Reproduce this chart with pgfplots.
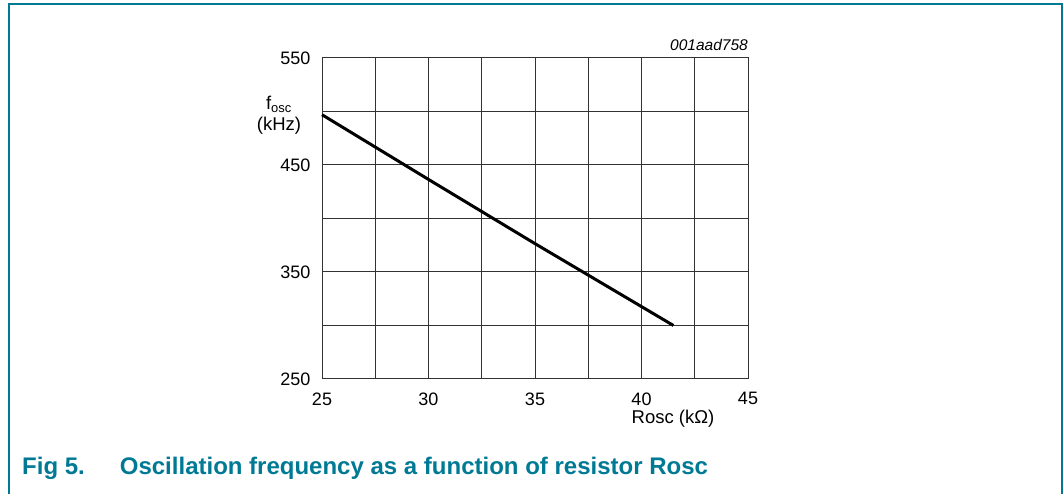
\documentclass[border=0pt]{standalone}
\usepackage{pgfplots}
\pgfplotsset{compat=1.18}
\usepackage{fontspec}
\setmainfont{Liberation Sans}
\definecolor{nxpteal}{RGB}{0,122,148}
\definecolor{gridc}{RGB}{50,50,50}
\begin{document}
\begin{tikzpicture}[x=1pt,y=1pt]
\useasboundingbox (0,0) rectangle (1063,494);
\draw[nxpteal, line width=2pt] (8.5,-2) -- (8.5,489.5) -- (1061.5,489.5) -- (1061.5,-2);
\begin{axis}[
  at={(322pt,115pt)}, anchor=south west,
  scale only axis, width=426pt, height=321pt,
  xmin=25, xmax=45, ymin=250, ymax=550,
  xtick={25,30,...,45}, ytick={250,350,450,550},
  extra x ticks={27.5,32.5,37.5,42.5}, extra x tick labels={},
  extra y ticks={300,400,500}, extra y tick labels={},
  grid=major,
  major grid style={gridc, line width=1pt},
  extra tick style={grid=major, major grid style={gridc, line width=1pt}},
  axis line style={gridc, line width=1pt},
  tick style={draw=none},
  /pgf/number format/assume math mode=true,
  ticklabel style={font=\fontsize{18}{20}\selectfont},
  xticklabel style={yshift=-10pt},
  yticklabel style={xshift=-8pt},
  clip=false,
]
\addplot[black, line width=3pt] coordinates {(25,497) (30,436.5) (35,376.5) (41.5,300)};
\end{axis}
\node[font=\fontsize{18.5}{20.5}\selectfont, align=center, inner sep=0pt] at (279,379) {f\textsubscript{osc}\\(kHz)};
\node[font=\fontsize{18.5}{20}\selectfont, inner sep=0pt] at (673,75) {Rosc (kΩ)};
\node[font=\fontsize{15.5}{17}\selectfont\itshape, anchor=base east, inner sep=0pt] at (748,443) {001aad758};
\node[font=\fontsize{24}{26}\selectfont\bfseries, text=nxpteal, anchor=base west, inner sep=0pt] at (22,19) {Fig 5.\hspace{35pt}Oscillation frequency as a function of resistor Rosc};
\end{tikzpicture}
\end{document}
